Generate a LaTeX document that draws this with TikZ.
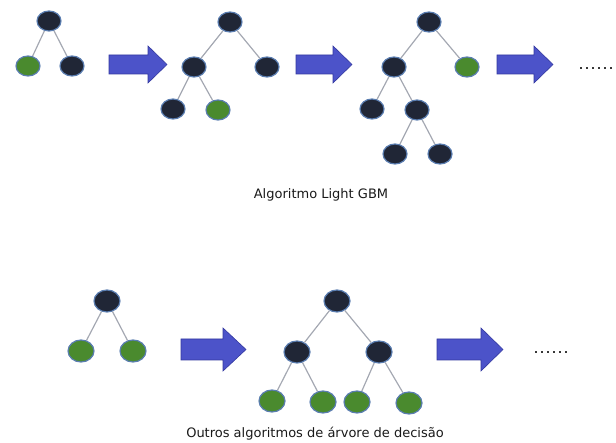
\documentclass[tikz,border=0pt]{standalone}
\usepackage{fontspec}
\setmainfont{DejaVu Sans}
\usetikzlibrary{shapes.geometric}
\definecolor{nodedark}{HTML}{202636}
\definecolor{nodegreen}{HTML}{4A8A2E}
\definecolor{nodeedge}{HTML}{5A7DB0}
\definecolor{linkgray}{HTML}{A4A8B2}
\definecolor{arrowfill}{HTML}{4C53C9}
\definecolor{arrowline}{HTML}{3338A0}
\newcommand{\dotrow}{.\kern2pt.\kern2pt.\kern2pt.\kern2pt.\kern2pt.}
\tikzset{
  treenode/.style={ellipse, draw=nodeedge, line width=1.2pt, inner sep=0pt,
                   minimum width=24pt, minimum height=20pt},
  dark/.style={treenode, fill=nodedark},
  leafg/.style={treenode, fill=nodegreen},
  big/.style={minimum width=26pt, minimum height=22pt},
  link/.style={draw=linkgray, line width=1.2pt},
  blockarrow/.style={fill=arrowfill, draw=arrowline, line width=0.6pt, line join=miter},
  caption/.style={font=\fontsize{13}{15}\selectfont, text=black!90},
  dots/.style={font=\fontsize{10.5}{12}\selectfont\bfseries, text=black!85, inner sep=0pt}
}
\begin{document}
\begin{tikzpicture}[x=1pt,y=-1pt]
\useasboundingbox (0,0) rectangle (616,443);

% ---- LightGBM: leaf-wise growth ----
% step 1
\node[dark]  (a0) at (49,21) {};
\node[leafg] (a1) at (28,66) {};
\node[dark]  (a2) at (72,66) {};
\draw[link] (a0) -- (a1) (a0) -- (a2);

\filldraw[blockarrow] (109,55) -- (148,55) -- (148,46) -- (167,64.5) -- (148,83) -- (148,74) -- (109,74) -- cycle;

% step 2
\node[dark]  (b0) at (230,22) {};
\node[dark]  (b1) at (194,67) {};
\node[dark]  (b2) at (267,67) {};
\node[dark]  (b3) at (173,109) {};
\node[leafg] (b4) at (218,110) {};
\draw[link] (b0) -- (b1) (b0) -- (b2) (b1) -- (b3) (b1) -- (b4);

\filldraw[blockarrow] (296,55) -- (333,55) -- (333,46) -- (352,64.5) -- (333,83) -- (333,74) -- (296,74) -- cycle;

% step 3
\node[dark]  (c0) at (429,22) {};
\node[dark]  (c1) at (394,67) {};
\node[leafg] (c2) at (467,67) {};
\node[dark]  (c3) at (372,109) {};
\node[dark]  (c4) at (417,110) {};
\node[dark]  (c5) at (395,154) {};
\node[dark]  (c6) at (440,154) {};
\draw[link] (c0) -- (c1) (c0) -- (c2) (c1) -- (c3) (c1) -- (c4) (c4) -- (c5) (c4) -- (c6);

\filldraw[blockarrow] (497,55) -- (534,55) -- (534,46) -- (553,64.5) -- (534,83) -- (534,74) -- (497,74) -- cycle;

\node[dots, anchor=base west] (d1) at (579,70) {\dotrow};

\node[caption] (t1) at (321,195) {Algoritmo Light GBM};

% ---- other algorithms: level-wise growth ----
\node[dark, big]  (e0) at (107,301) {};
\node[leafg, big] (e1) at (81,351) {};
\node[leafg, big] (e2) at (133,351) {};
\draw[link] (e0) -- (e1) (e0) -- (e2);

\filldraw[blockarrow] (181,339) -- (223,339) -- (223,328) -- (246,349.5) -- (223,371) -- (223,360) -- (181,360) -- cycle;

\node[dark, big]  (f0) at (337,301) {};
\node[dark, big]  (f1) at (297,352) {};
\node[dark, big]  (f2) at (379,352) {};
\node[leafg, big] (f3) at (272,401) {};
\node[leafg, big] (f4) at (323,402) {};
\node[leafg, big] (f5) at (357,402) {};
\node[leafg, big] (f6) at (409,403) {};
\draw[link] (f0) -- (f1) (f0) -- (f2) (f1) -- (f3) (f1) -- (f4) (f2) -- (f5) (f2) -- (f6);

\filldraw[blockarrow] (437,339) -- (481,339) -- (481,328) -- (503,349.5) -- (481,371) -- (481,360) -- (437,360) -- cycle;

\node[dots, anchor=base west] (d2) at (534,354) {\dotrow};

\node[caption] (t2) at (315,434) {Outros algoritmos de árvore de decisão};
\end{tikzpicture}
\end{document}
